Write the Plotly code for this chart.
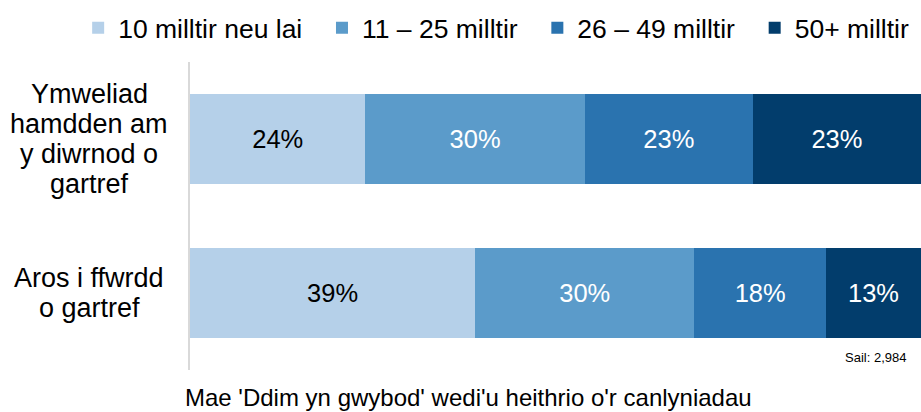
import plotly.graph_objects as go

# categories (top to bottom), each label split into its printed lines
categories = ["Ymweliad hamdden am y diwrnod o gartref", "Aros i ffwrdd o gartref"]
category_lines = [
    ["Ymweliad", "hamdden am", "y diwrnod o", "gartref"],
    ["Aros i ffwrdd", "o gartref"],
]

# distance bands and their share (%) for each category
series_names = ["10 milltir neu lai", "11 \u2013 25 milltir", "26 \u2013 49 milltir", "50+ milltir"]
series_values = [
    [24, 39],
    [30, 30],
    [23, 18],
    [23, 13],
]
series_colours = ["#B5D0E9", "#5B9BCA", "#2A73AF", "#023D6C"]
label_colours = ["#000000", "#FFFFFF", "#FFFFFF", "#FFFFFF"]

base_note = "Sail: 2,984"
footnote = "Mae 'Ddim yn gwybod' wedi'u heithrio o'r canlyniadau"

FONT = "Arial, Liberation Sans, sans-serif"

fig = go.Figure()
for k, (name, vals, col, tcol) in enumerate(zip(series_names, series_values, series_colours, label_colours)):
    # a little extra room after each legend entry except the last one
    pad = "\u00a0\u00a0" if k < len(series_names) - 1 else ""
    fig.add_trace(go.Bar(
        y=categories,
        x=vals,
        name=name + pad,
        orientation="h",
        marker=dict(color=col, line=dict(width=0)),
        texttemplate="%{x}%",
        textposition="inside",
        insidetextanchor="middle",
        textangle=0,
        insidetextfont=dict(color=tcol, size=25.5, family=FONT),
        hovertemplate="%{y}: %{x}%<extra>" + name + "</extra>",
    ))

# centred, multi-line category labels
line_step = 30
for cat, lines in zip(categories, category_lines):
    n = len(lines)
    for i, txt in enumerate(lines):
        fig.add_annotation(
            x=-0.138, xref="paper", y=cat, yref="y",
            text=txt, showarrow=False, xanchor="center", yanchor="middle",
            yshift=((n - 1) / 2 - i) * line_step,
            font=dict(size=27, color="#000000", family=FONT),
        )

fig.add_annotation(
    x=0.982, xref="paper", y=0.042, yref="paper",
    text=base_note, showarrow=False, xanchor="right", yanchor="middle",
    font=dict(size=13, color="#000000", family=FONT),
)
fig.add_annotation(
    x=-0.01, xref="paper", y=-0.088, yref="paper",
    text=footnote, showarrow=False, xanchor="left", yanchor="middle",
    font=dict(size=24, color="#000000", family=FONT),
)

fig.update_layout(
    width=921, height=412,
    barmode="stack",
    bargap=0.41,
    margin=dict(l=190, r=0, t=62, b=42, autoexpand=False),
    paper_bgcolor="white",
    plot_bgcolor="white",
    font=dict(family=FONT, size=25, color="#000000"),
    showlegend=True,
    legend=dict(
        orientation="h",
        x=-0.153, xanchor="left",
        y=1.11, yanchor="middle",
        font=dict(size=26.5, family=FONT),
        traceorder="normal",
        itemclick=False,
    ),
    xaxis=dict(range=[0, 100], visible=False, fixedrange=True),
    yaxis=dict(
        autorange="reversed",
        showticklabels=False,
        ticks="",
        showgrid=False,
        zeroline=False,
        showline=True,
        linecolor="#D9D9D9",
        linewidth=2,
        fixedrange=True,
    ),
)

# drop the browser's default page margin so the figure sits at the top-left corner
fig.write_html(
    "out.html",
    config={"displayModeBar": False},
    post_script="document.body.style.margin='0';",
)
